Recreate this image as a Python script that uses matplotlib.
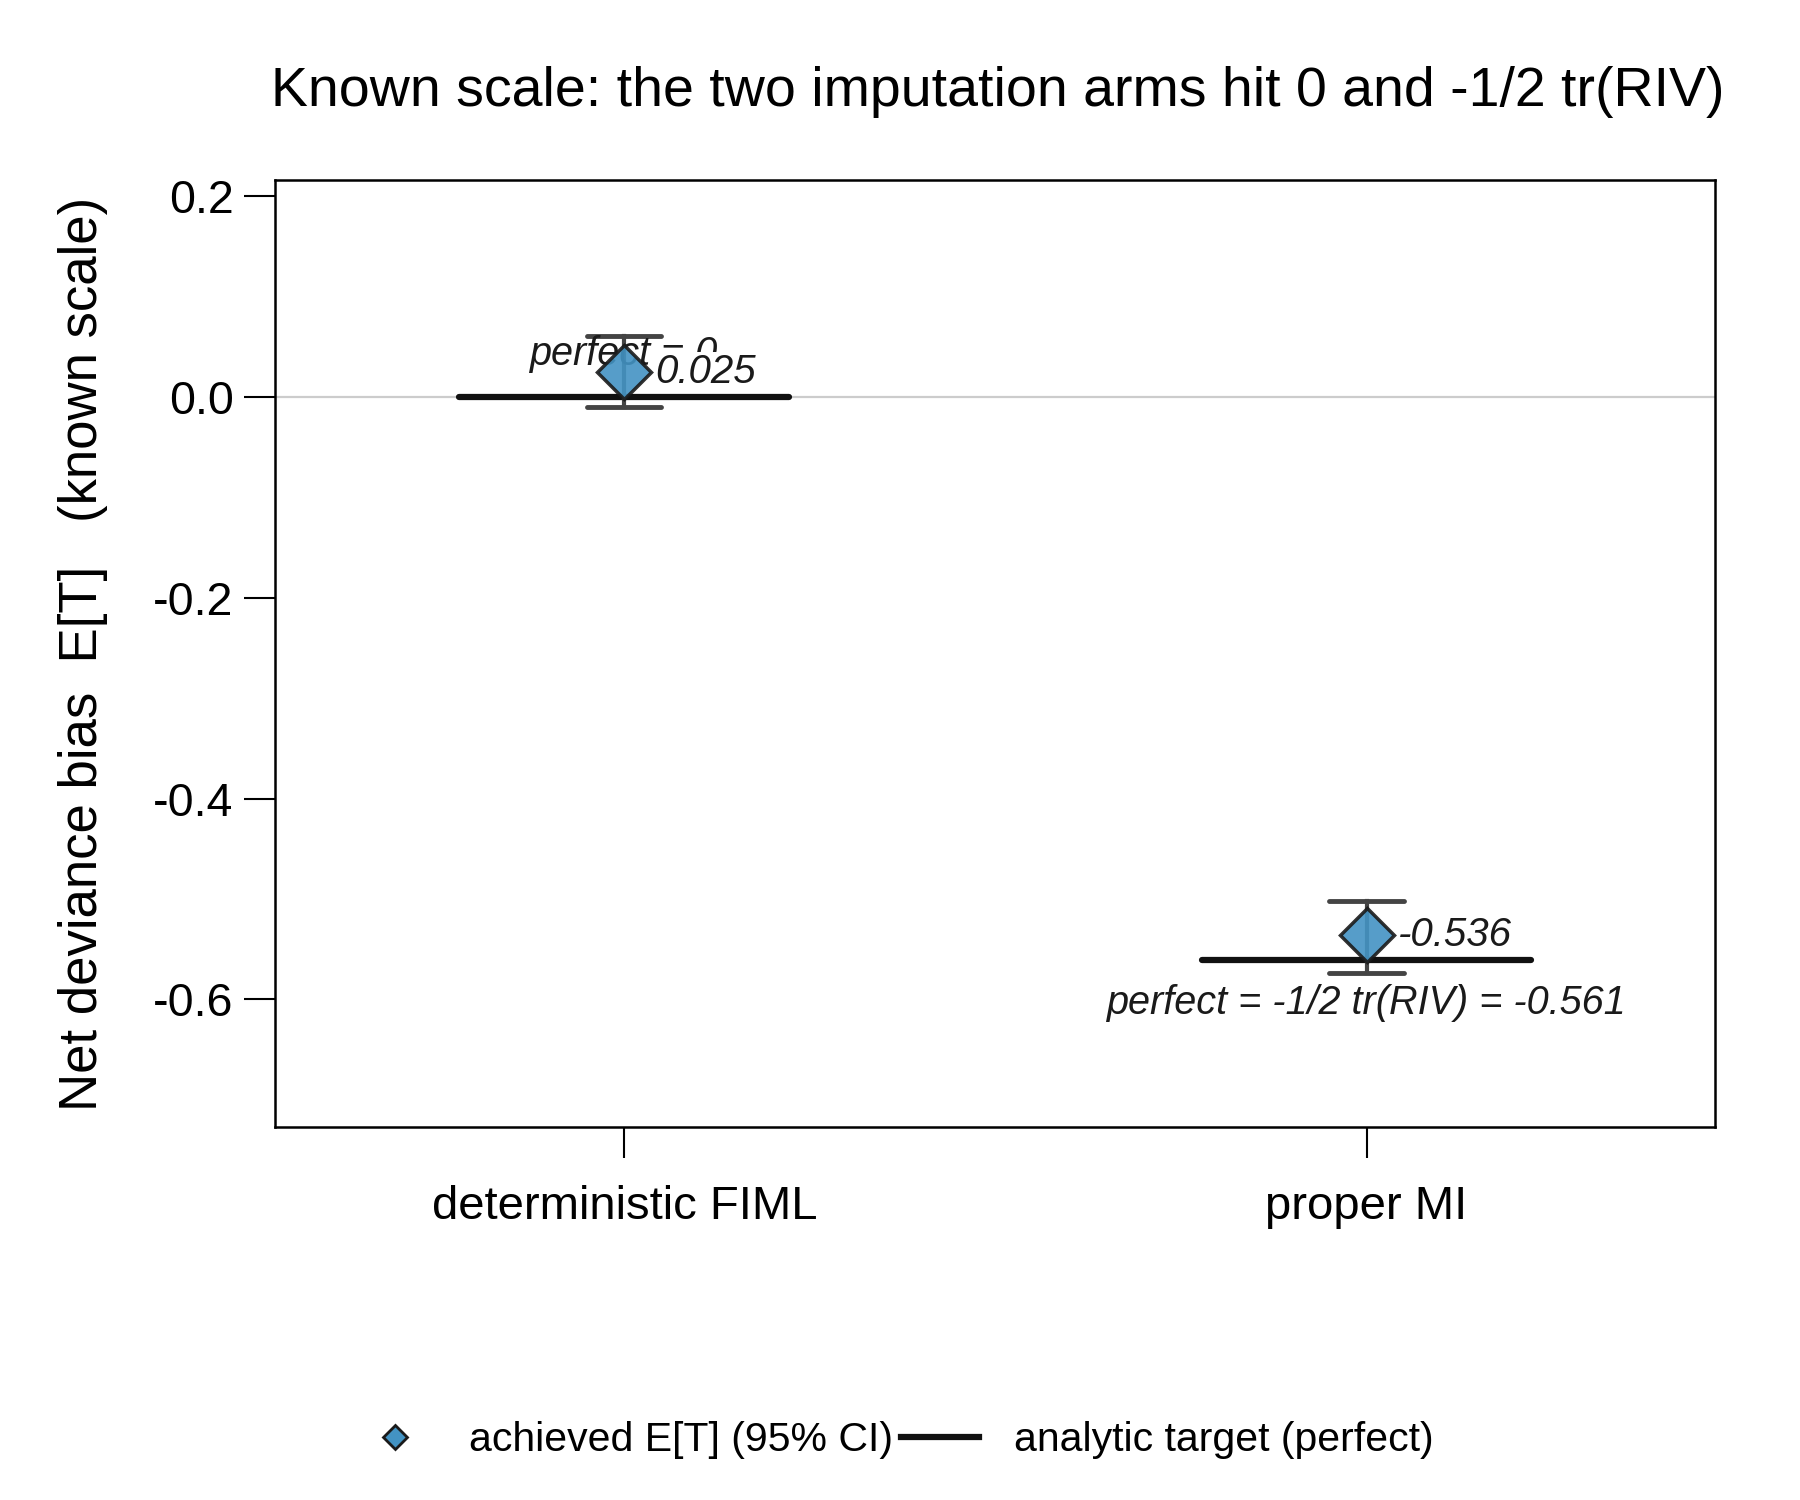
import matplotlib
matplotlib.use("Agg")
import matplotlib.pyplot as plt
from matplotlib.lines import Line2D

plt.rcParams['font.family'] = ['Liberation Sans', 'DejaVu Sans']

# data
arms = ["deterministic FIML", "proper MI"]
achieved = [0.025, -0.536]
ci_lo = [-0.010, -0.574]
ci_hi = [0.061, -0.502]
target = [0.0, -0.561]
target_lab = ["perfect = 0", "perfect = -1/2 tr(RIV) = -0.561"]
ach_lab = ["0.025", "-0.536"]

blue = "#4393c3"
grey = "#444444"

fig = plt.figure(figsize=(18, 15), dpi=100)
ax = fig.add_axes([0.153, 0.2487, 0.800, 0.6313])

ax.axhline(0, color="#cccccc", lw=1.6, zorder=0)

xs = [1, 2]
for i, x in enumerate(xs):
    # analytic target
    ax.plot([x - 0.222, x + 0.222], [target[i], target[i]], color="#111111",
            lw=4.5, solid_capstyle="round", zorder=2)
    # CI whisker
    ax.plot([x, x], [ci_lo[i], ci_hi[i]], color=grey, lw=3, zorder=3)
    for yy in (ci_lo[i], ci_hi[i]):
        ax.plot([x - 0.05, x + 0.05], [yy, yy], color=grey, lw=3.5,
                solid_capstyle="round", zorder=3)
    ax.plot(x, achieved[i], marker="D", ms=27, mfc=blue, mec="#1a1a1a",
            mew=2.5, alpha=0.9, zorder=4)
    ax.text(x + 0.042, achieved[i], ach_lab[i], fontsize=29, style="italic",
            ha="left", va="center", color="#1a1a1a", zorder=5,
            bbox=dict(boxstyle="square,pad=0.02", fc="white", ec="none"))

ax.text(1, target[0] + 0.043, target_lab[0], fontsize=28.5, style="italic",
        ha="center", va="center", color="#1a1a1a", zorder=3.5)
ax.text(2, target[1] - 0.043, target_lab[1], fontsize=28.5, style="italic",
        ha="center", va="center", color="#1a1a1a", zorder=5)

ax.set_xlim(0.53, 2.47)
ax.set_ylim(-0.727, 0.216)
ax.set_xticks(xs)
ax.set_xticklabels(arms, fontsize=34)
ax.set_yticks([0.2, 0.0, -0.2, -0.4, -0.6])
ax.set_yticklabels(["0.2", "0.0", "-0.2", "-0.4", "-0.6"], fontsize=33.5)
ax.tick_params(axis="both", length=22, width=1.5, direction="out", pad=8)
ax.tick_params(axis="x", pad=20)
for s in ax.spines.values():
    s.set_linewidth(1.8)

ax.set_ylabel("Net deviance bias  E[T]   (known scale)", fontsize=38)
ax.yaxis.set_label_coords(-0.116, 0.5)
fig.text(0.5545, 0.939, "Known scale: the two imputation arms hit 0 and -1/2 tr(RIV)",
         ha="center", va="center", fontsize=40)

handles = [Line2D([], [], ls="none", marker="D", ms=12, mfc=blue, mec="#1a1a1a", mew=2),
           Line2D([], [], color="#111111", lw=4.5)]
fig.legend(handles, ["achieved E[T] (95% CI)", "analytic target (perfect)"],
           loc="center", bbox_to_anchor=(0.497, 0.040), ncol=2, frameon=False,
           fontsize=29.5, handlelength=1.9, columnspacing=0.2, handletextpad=0.85)

fig.savefig("out.png", dpi=100)
